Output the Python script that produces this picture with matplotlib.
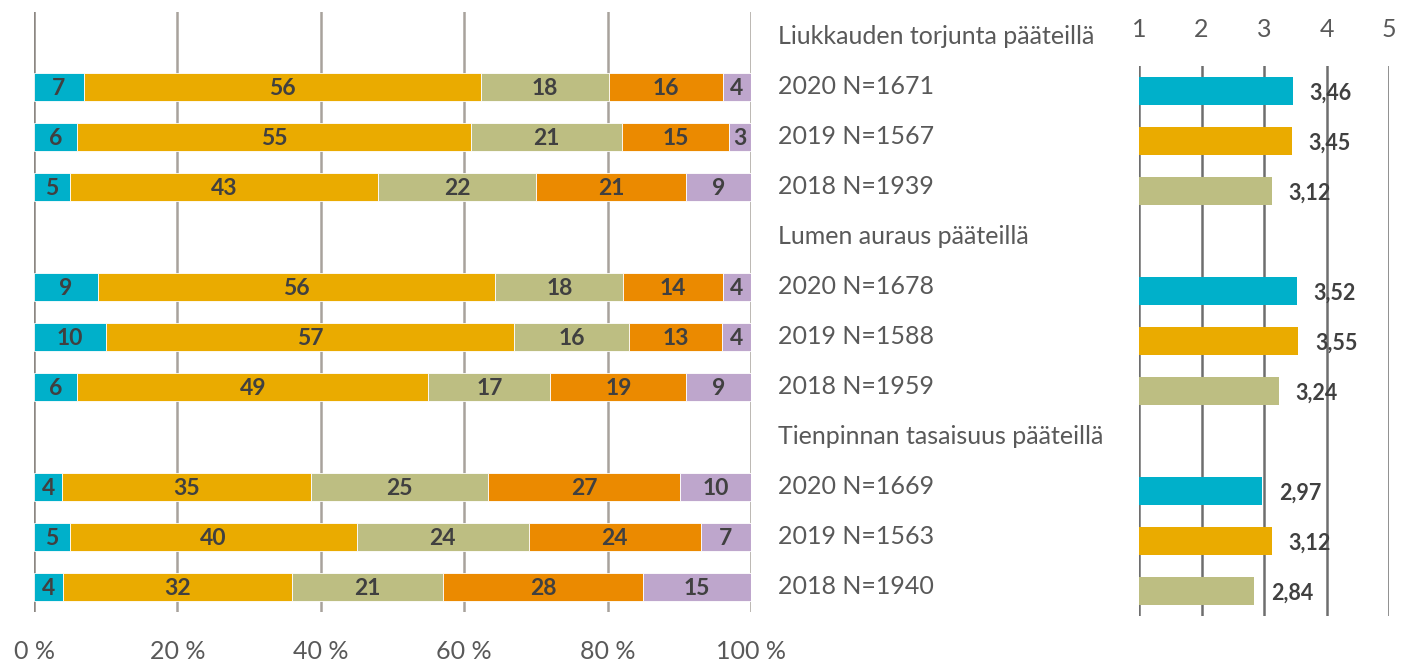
import matplotlib
matplotlib.use("Agg")
import matplotlib.pyplot as plt
import matplotlib.transforms as mtransforms
import numpy as np

plt.rcParams['font.family'] = ['Lato', 'DejaVu Sans']

groups = ["Liukkauden torjunta pääteillä", "Lumen auraus pääteillä", "Tienpinnan tasaisuus pääteillä"]
row_labels = [
    "2020 N=1671", "2019 N=1567", "2018 N=1939",
    "2020 N=1678", "2019 N=1588", "2018 N=1959",
    "2020 N=1669", "2019 N=1563", "2018 N=1940",
]
seg1 = [7, 6, 5, 9, 10, 6, 4, 5, 4]
seg2 = [56, 55, 43, 56, 57, 49, 35, 40, 32]
seg3 = [18, 21, 22, 18, 16, 17, 25, 24, 21]
seg4 = [16, 15, 21, 14, 13, 19, 27, 24, 28]
seg5 = [4, 3, 9, 4, 4, 9, 10, 7, 15]
means = [3.46, 3.45, 3.12, 3.52, 3.55, 3.24, 2.97, 3.12, 2.84]
pct_ticks = [0, 20, 40, 60, 80, 100]
pct_ticklabels = ["0 %", "20 %", "40 %", "60 %", "80 %", "100 %"]
mean_ticks = [1, 2, 3, 4, 5]

seg_colors = ["#00B0CA", "#EAAB00", "#BDBE82", "#EB8A00", "#BEA6CC"]
year_colors = ["#00B0CA", "#EAAB00", "#BDBE82"]
txt_dark = "#404040"
txt_gray = "#595959"

W, H = 1402, 660
fig = plt.figure(figsize=(W / 100, H / 100), dpi=100)

def fbox(x0, y0, x1, y1):
    return [x0 / W, 1 - y1 / H, (x1 - x0) / W, (y1 - y0) / H]

# ---------- left stacked bars ----------
ax = fig.add_axes(fbox(34, 12, 751, 612))
slots_bars = [1, 2, 3, 5, 6, 7, 9, 10, 11]
slots_head = [0, 4, 8]
segs = np.array([seg1, seg2, seg3, seg4, seg5], dtype=float)
tot = segs.sum(axis=0)
norm = segs / tot * 100
left = np.zeros(len(seg1))
for i in range(5):
    ax.barh(slots_bars, norm[i], left=left, height=0.56, color=seg_colors[i],
            edgecolor="white", linewidth=0.6, zorder=3)
    for j, y in enumerate(slots_bars):
        ax.text(left[j] + norm[i][j] / 2, y + 0.03, str(int(segs[i][j])),
                ha="center", va="center", fontsize=16.5, fontweight="bold",
                color=txt_dark, zorder=4)
    left += norm[i]
ax.set_xlim(0, 100)
ax.set_ylim(11.5, -0.5)
ax.set_xticks(pct_ticks)
ax.set_xticklabels(pct_ticklabels, fontsize=18, color=txt_gray)
ax.tick_params(axis="x", length=0, pad=20)
ax.set_yticks([])
for s in ax.spines.values():
    s.set_visible(False)
for x in pct_ticks:
    ax.axvline(x, color="#A8A29C" if x else "#8C8782", lw=1.8, zorder=1)

# middle labels
tr = mtransforms.blended_transform_factory(fig.transFigure, ax.transData)
for g, y in zip(groups, slots_head):
    ax.text(778 / W, y - 0.02, g, transform=tr, ha="left", va="center",
            fontsize=18, color=txt_gray)
for lab, y in zip(row_labels, slots_bars):
    ax.text(778 / W, y - 0.02, lab, transform=tr, ha="left", va="center",
            fontsize=18, color=txt_gray)

# ---------- right mean bars ----------
ax2 = fig.add_axes(fbox(1139, 66, 1389, 616))
rslots = [s - 1 for s in slots_bars]
cols = year_colors * 3
ax2.barh(rslots, [m - 1 for m in means], left=1, height=0.56, color=cols, zorder=3)
for y, m in zip(rslots, means):
    ax2.annotate(f"{m:.2f}".replace(".", ","), xy=(m, y + 0.05), xytext=(12, 0),
                 textcoords="offset points", ha="left", va="center",
                 fontsize=15.5, fontweight="bold", color=txt_dark, zorder=4)
ax2.set_xlim(1, 5)
ax2.set_ylim(10.5, -0.5)
ax2.set_xticks(mean_ticks)
ax2.set_xticklabels([str(t) for t in mean_ticks], fontsize=18, color=txt_gray)
ax2.xaxis.tick_top()
ax2.tick_params(axis="x", length=0, pad=18)
ax2.set_yticks([])
for s in ax2.spines.values():
    s.set_visible(False)
for x in mean_ticks:
    ax2.axvline(x, color="#6E6E6E", lw=1.8, zorder=1)

fig.savefig("out.png", dpi=100)
